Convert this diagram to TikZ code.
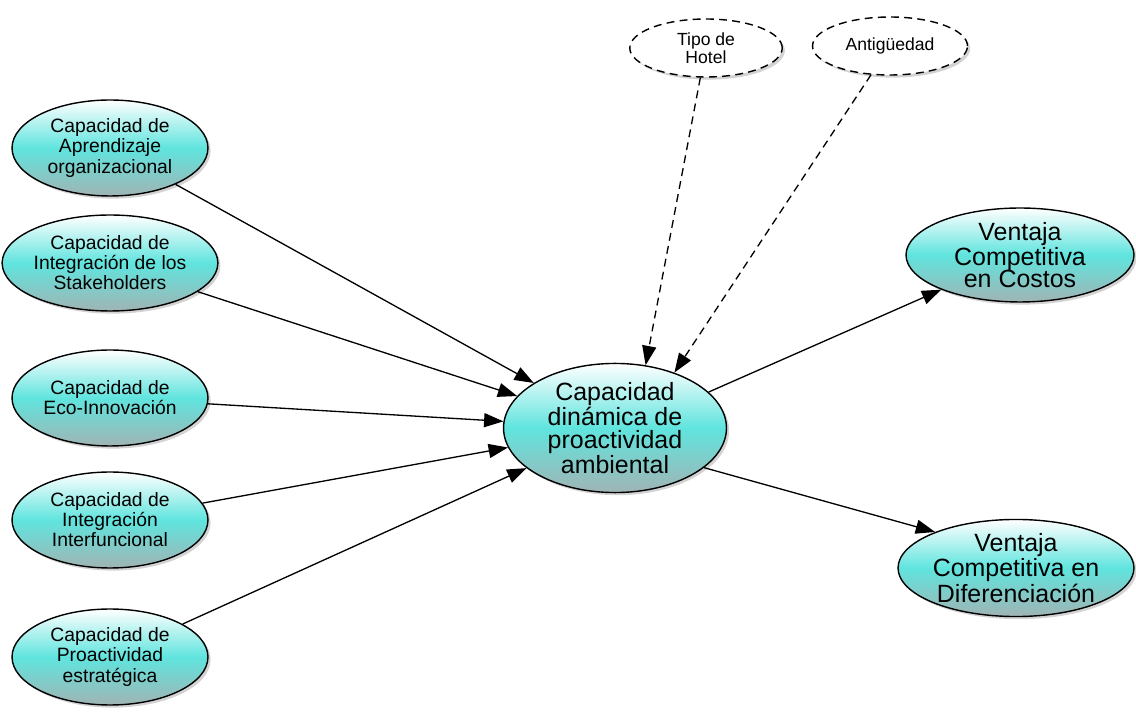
\documentclass[tikz,border=0pt]{standalone}
\usepackage{fontspec}
\setmainfont{Liberation Sans}
\usepackage{tikz}
\usetikzlibrary{shapes.geometric, arrows.meta, shadows}

\definecolor{turq}{RGB}{96,228,222}
\definecolor{turqlow}{RGB}{160,180,180}

\begin{document}
\begin{tikzpicture}[x=0.02cm, y=-0.02cm, >={Triangle[length=11pt,width=8pt]}, line width=0.75pt,
    var/.style={ellipse, draw, line width=0.8pt, align=center, inner sep=0pt,
        top color=white, bottom color=turqlow, middle color=turq,
        drop shadow={opacity=0.35, shadow xshift=1.5pt, shadow yshift=-1.5pt}},
    dim/.style={var, minimum width=3.92cm, minimum height=1.92cm,
        font=\fontsize{11}{11.4}\selectfont},
    big/.style={var, font=\fontsize{14.2}{12.9}\selectfont},
    ctrl/.style={ellipse, draw, dashed, dash pattern=on 4.5pt off 3pt, line width=0.8pt,
        fill=white, align=center, inner sep=0pt, minimum width=3.05cm, minimum height=1.16cm,
        font=\fontsize{10}{9}\selectfont,
        drop shadow={opacity=0.35, shadow xshift=1.5pt, shadow yshift=-1.5pt}}]
    \useasboundingbox (0,0) rectangle (1136,715);
    % Dimensiones de la capacidad
    \node[dim] (apr) at (110,148) {Capacidad de\\Aprendizaje\\organizacional};
    \node[dim] (stk) at (110,263) {Capacidad de\\Integración de los\\Stakeholders};
    \node[dim] (eco) at (110,398) {Capacidad de\\Eco-Innovación};
    \node[dim] (itf) at (110,520) {Capacidad de\\Integración\\Interfuncional};
    \node[dim] (pro) at (110,657) {Capacidad de\\Proactividad\\estratégica};
    % Constructo central y resultados
    \node[big, minimum width=4.46cm, minimum height=2.14cm] (cap) at (615,428) {Capacidad\\dinámica de\\proactividad\\ambiental};
    \node[big, minimum width=4.56cm, minimum height=1.88cm] (vcc) at (1020,255) {Ventaja\\Competitiva\\en Costos};
    \node[big, minimum width=4.72cm, minimum height=1.92cm] (vcd) at (1016,568) {Ventaja\\Competitiva en\\Diferenciación};
    % Variables de control
    \node[ctrl] (tip) at (706,48) {Tipo de\\Hotel};
    \node[ctrl, minimum width=3.1cm] (ant) at (890,46) {Antigüedad};

    \draw[->] (apr) -- (cap);
    \draw[->] (stk) -- (cap);
    \draw[->] (eco) -- (cap);
    \draw[->] (itf) -- (cap);
    \draw[->] (pro) -- (cap);
    \draw[->, dashed, dash pattern=on 4.5pt off 3pt] (tip) -- (cap.64);
    \draw[->, dashed, dash pattern=on 4.5pt off 3pt] (ant) -- (cap.43);
    \draw[->] (cap.21) -- (vcc);
    \draw[->] (cap.336) -- (vcd.156);
\end{tikzpicture}
\end{document}
